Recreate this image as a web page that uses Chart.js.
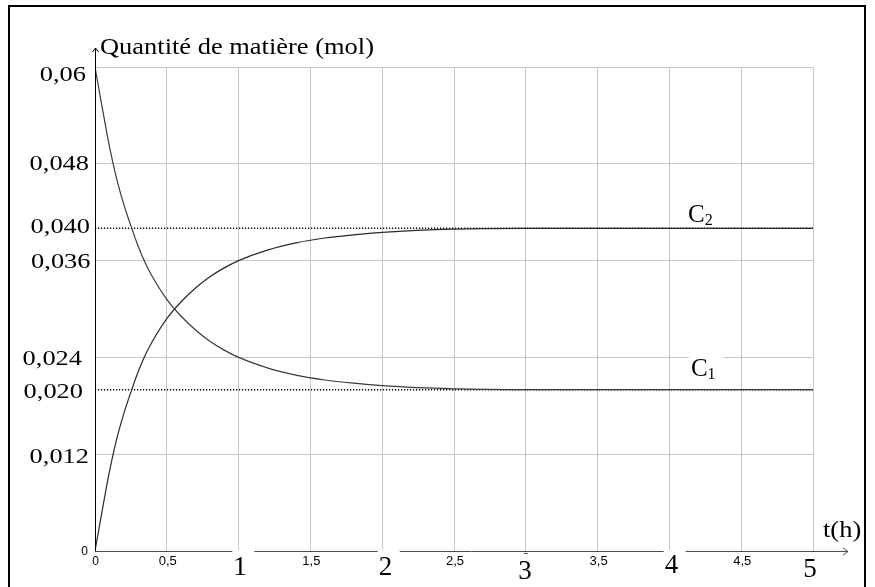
<!DOCTYPE html>
<html>
<head>
<meta charset="utf-8">
<script src="https://cdn.jsdelivr.net/npm/chart.js@4/dist/chart.umd.min.js"></script>
<style>
  html, body { margin: 0; padding: 0; background: #fff; }
  canvas { display: block; }
</style>
</head>
<body>
<canvas id="chart" width="875" height="587"></canvas>
<script>
// Time (h) and amounts of substance (mol) for the two curves
const hours = [0, 0.05, 0.1, 0.15, 0.2, 0.25, 0.3, 0.35, 0.4, 0.5, 0.6, 0.7, 0.8, 0.9,
               1.0, 1.2, 1.4, 1.6, 1.8, 2.0, 2.5, 3.0, 3.5, 4.0, 4.5, 5.0];
const c1Moles = [0.0600, 0.0550, 0.0502, 0.0462, 0.0430, 0.0403, 0.0378, 0.0357, 0.0340,
                 0.0312, 0.0291, 0.0274, 0.0260, 0.0249, 0.0240, 0.0227, 0.0218, 0.0212,
                 0.0208, 0.0205, 0.0201, 0.0200, 0.0200, 0.0200, 0.0200, 0.0200];
const c2Moles = [0.0000, 0.0050, 0.0098, 0.0138, 0.0170, 0.0197, 0.0222, 0.0243, 0.0260,
                 0.0288, 0.0309, 0.0326, 0.0340, 0.0351, 0.0360, 0.0373, 0.0382, 0.0388,
                 0.0392, 0.0395, 0.0399, 0.0400, 0.0400, 0.0400, 0.0400, 0.0400];

// Final (limit) amounts shown as dotted lines
const c2Limit = 0.040;
const c1Limit = 0.020;

// Axis ticks and their labels
const xGridValues = [0, 0.5, 1, 1.5, 2, 2.5, 3, 3.5, 4, 4.5, 5];
const yGridValues = [0, 0.012, 0.024, 0.036, 0.048, 0.06];
const yLabelValues = [0.06, 0.048, 0.040, 0.036, 0.024, 0.020, 0.012];
const yLabelTexts = ['0,06', '0,048', '0,040', '0,036', '0,024', '0,020', '0,012'];
const halfHourValues = [0.5, 1.5, 2.5, 3.5, 4.5];
const halfHourTexts = ['0,5', '1,5', '2,5', '3,5', '4,5'];
const hourValues = [1, 2, 3, 4, 5];
const hourTexts = ['1', '2', '3', '4', '5'];

const yTitle = 'Quantité de matière (mol)';
const xTitle = 't(h)';

const pts = (xs, ys) => xs.map((x, i) => ({ x: x, y: ys[i] }));
const flat = (v) => [{ x: 0, y: v }, { x: 5, y: v }];

const SERIF = '"Liberation Serif", "Times New Roman", serif';
const SANS = '"Liberation Sans", Arial, sans-serif';

// Text drawn with a horizontal stretch factor
function stretchedText(ctx, text, x, y, font, align, sx) {
  ctx.save();
  ctx.font = font;
  const w = ctx.measureText(text).width * sx;
  const left = align === 'right' ? x - w : (align === 'center' ? x - w / 2 : x);
  ctx.translate(left, y);
  ctx.scale(sx, 1);
  ctx.textAlign = 'left';
  ctx.textBaseline = 'alphabetic';
  ctx.fillStyle = '#000';
  ctx.fillText(text, 0, 0);
  ctx.restore();
  return w;
}

// Per-label nudges for the y labels: distance of right edge from axis, baseline offset
const yLabelNudge = {
  '0,06': [9, 13.5], '0,048': [6, 6.5], '0,040': [5, 5], '0,036': [4.5, 7],
  '0,024': [13, 8], '0,020': [12, 8], '0,012': [6, 9]
};
// Hour labels: horizontal centre offset, baseline offset, white box behind
const hourNudge = {
  '1': [1.5, 24, true], '2': [3.3, 24, true], '3': [-0.8, 28, false],
  '4': [2, 22, true], '5': [-3, 26, false]
};

const annotate = {
  id: 'annotate',
  afterDraw(chart) {
    const ctx = chart.ctx;
    const xs = chart.scales.x, ys = chart.scales.y;
    const x0 = xs.getPixelForValue(0), y0 = ys.getPixelForValue(0);
    const xEnd = xs.getPixelForValue(5);
    ctx.save();

    // y axis with arrow
    ctx.strokeStyle = '#000';
    ctx.lineWidth = 1;
    ctx.beginPath();
    ctx.moveTo(x0 + 0.5, y0);
    ctx.lineTo(x0 + 0.5, ys.getPixelForValue(0.06) - 19);
    ctx.stroke();
    const yTop = ys.getPixelForValue(0.06) - 19;
    ctx.beginPath();
    ctx.moveTo(x0 - 2.5, yTop + 4);
    ctx.lineTo(x0 + 0.5, yTop);
    ctx.lineTo(x0 + 3.5, yTop + 4);
    ctx.stroke();

    // x axis with arrow
    ctx.strokeStyle = '#505050';
    ctx.beginPath();
    ctx.moveTo(x0, y0 + 0.5);
    ctx.lineTo(xEnd + 35, y0 + 0.5);
    ctx.stroke();
    ctx.beginPath();
    ctx.moveTo(xEnd + 30, y0 - 3);
    ctx.lineTo(xEnd + 35, y0 + 0.5);
    ctx.lineTo(xEnd + 30, y0 + 4);
    ctx.stroke();

    // axis titles
    stretchedText(ctx, yTitle, x0 + 5, ys.getPixelForValue(0.06) - 13, '23px ' + SERIF, 'left', 1.15);
    stretchedText(ctx, xTitle, xEnd + 10, y0 - 14, '23px ' + SERIF, 'left', 1.15);

    // y labels
    yLabelValues.forEach((v, i) => {
      const t = yLabelTexts[i];
      const n = yLabelNudge[t];
      stretchedText(ctx, t, x0 - n[0], ys.getPixelForValue(v) + n[1], '22px ' + SERIF, 'right', 1.2);
    });
    // origin labels
    stretchedText(ctx, '0', x0 - 7, y0 + 4, '12px ' + SANS, 'right', 1);
    stretchedText(ctx, '0', x0 + 0.5, y0 + 14, '12px ' + SANS, 'center', 1);

    // half-hour labels
    halfHourValues.forEach((v, i) => {
      stretchedText(ctx, halfHourTexts[i], xs.getPixelForValue(v) + 1, y0 + 14, '13px ' + SANS, 'center', 1);
    });

    // hour labels (some with a white box over the axis)
    ctx.font = '27px ' + SERIF;
    hourValues.forEach((v, i) => {
      const t = hourTexts[i];
      const n = hourNudge[t];
      const cx = xs.getPixelForValue(v) + n[0];
      const w = ctx.measureText(t).width;
      if (n[2]) {
        ctx.fillStyle = '#fff';
        ctx.fillRect(cx - w / 2 - 1, y0 - 1, 22, 30);
      }
      stretchedText(ctx, t, cx, y0 + n[1], '27px ' + SERIF, 'center', 1);
    });
    ctx.fillStyle = '#505050';
    ctx.fillRect(xs.getPixelForValue(3) - 2, y0 + 2, 4, 1);

    // curve names
    const drawName = (sub, tx, v, dy, mask) => {
      const lx = xs.getPixelForValue(tx);
      const by = ys.getPixelForValue(v) + dy;
      if (mask) {
        ctx.fillStyle = '#fff';
        ctx.fillRect(lx - 2, by - 19, 34, 4);
      }
      const w = stretchedText(ctx, 'C', lx, by, '25px ' + SERIF, 'left', 1);
      stretchedText(ctx, sub, lx + w, by + 3, '16px ' + SERIF, 'left', 1);
    };
    drawName('2', 4.13, c2Limit, -6, false);
    drawName('1', 4.15, c1Limit, -14, true);

    // frame
    ctx.strokeStyle = '#000';
    ctx.lineWidth = 2;
    ctx.beginPath();
    ctx.moveTo(9, 600);
    ctx.lineTo(9, 6);
    ctx.lineTo(865, 6);
    ctx.lineTo(865, 600);
    ctx.stroke();
    ctx.restore();
  }
};

const gridColor = (c) => (c.tick && c.tick.value === 0) ? 'rgba(0,0,0,0)' : '#c8c8c8';

new Chart(document.getElementById('chart'), {
  type: 'line',
  data: {
    datasets: [
      { label: 'C1', data: pts(hours, c1Moles), borderColor: '#3a3a3a', borderWidth: 1.2,
        pointRadius: 0, cubicInterpolationMode: 'monotone', fill: false, order: 1 },
      { label: 'C2', data: pts(hours, c2Moles), borderColor: '#2a2a2a', borderWidth: 1.2,
        pointRadius: 0, cubicInterpolationMode: 'monotone', fill: false, order: 1 },
      { label: 'C2 limit', data: flat(c2Limit), borderColor: '#000', borderWidth: 1.5,
        borderDash: [1.2, 1.8], pointRadius: 0, fill: false, order: 2 },
      { label: 'C1 limit', data: flat(c1Limit), borderColor: '#000', borderWidth: 1.5,
        borderDash: [1.2, 1.8], pointRadius: 0, fill: false, order: 2 }
    ]
  },
  options: {
    responsive: false,
    animation: false,
    devicePixelRatio: 1,
    layout: { padding: { left: 95, right: 62, top: 67, bottom: 36 } },
    plugins: { legend: { display: false }, tooltip: { enabled: false } },
    scales: {
      x: {
        type: 'linear', min: 0, max: 5,
        afterBuildTicks: (s) => { s.ticks = xGridValues.map(v => ({ value: v })); },
        ticks: { display: false },
        grid: { color: gridColor, drawTicks: false, lineWidth: 1 },
        border: { display: false }
      },
      y: {
        type: 'linear', min: 0, max: 0.06,
        afterBuildTicks: (s) => { s.ticks = yGridValues.map(v => ({ value: v })); },
        ticks: { display: false },
        grid: { color: gridColor, drawTicks: false, lineWidth: 1 },
        border: { display: false }
      }
    }
  },
  plugins: [annotate]
});
</script>
</body>
</html>
